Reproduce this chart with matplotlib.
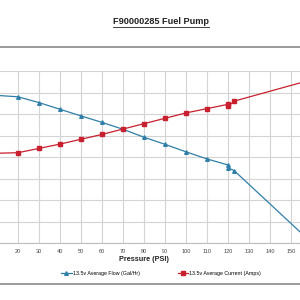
import numpy as np
import matplotlib.pyplot as plt
from matplotlib.lines import Line2D

plt.rcParams['font.family'] = ['Liberation Sans', 'DejaVu Sans']

# pressure (PSI)
pressure = [0, 20, 30, 40, 50, 60, 70, 80, 90, 100, 110, 120, 120, 123, 160]
# 13.5v average flow (Gal/Hr)
flow = [69.3, 68.0, 65.3, 62.2, 59.1, 56.1, 52.9, 49.2, 45.9, 42.4, 39.1, 36.3, 35.0, 33.6, 0]
# 13.5v average current (Amps)
current = [8.3, 8.4, 8.8, 9.2, 9.65, 10.1, 10.6, 11.1, 11.6, 12.1, 12.5, 12.9, 12.7, 13.2, 15.2]

x_ticks = np.arange(0, 161, 10)
# only these tick labels lie inside the picture
x_labels = [str(v) if 20 <= v <= 150 else '' for v in x_ticks]
flow_ticks = np.arange(0, 81, 10)
amp_ticks = np.arange(0, 17, 2)

blue = '#2f7fa9'
red = '#c8202f'
grid_c = '#d4d4d4'

fig = plt.figure(figsize=(3, 3), dpi=100)

# plot area is wider than the picture: left and right axes fall outside
ax = fig.add_axes([-24 / 300, 1 - 243 / 300, 336 / 300, 172 / 300])
ax.set_xlim(0, 160)
ax.set_ylim(0, 80)
ax.set_xticks(x_ticks, x_labels)
ax.set_yticks(flow_ticks, [])
ax.grid(True, color=grid_c, linewidth=0.8)
ax.set_axisbelow(True)
for s in ['top', 'left', 'right']:
    ax.spines[s].set_visible(False)
ax.spines['bottom'].set_color('#bdbdbd')
ax.spines['bottom'].set_linewidth(0.8)
ax.tick_params(length=0, labelsize=4, colors='#444444', pad=4)
ax.set_xlabel('Pressure (PSI)', fontsize=5.2, fontweight='bold', labelpad=1.5, color='#222222')

ax2 = ax.twinx()
ax2.set_ylim(0, 16)
ax2.set_yticks(amp_ticks, [])
for s in ax2.spines.values():
    s.set_visible(False)
ax2.tick_params(length=0)

ax.plot(pressure, flow, color=blue, lw=0.9, marker='^', ms=2.6, label='13.5v Average Flow (Gal/Hr)')
ax2.plot(pressure, current, color=red, lw=0.9, marker='s', ms=2.6, label='13.5v Average Current (Amps)')

# title with underline
fig.text(161 / 300, 1 - 21 / 300, 'F90000285 Fuel Pump', ha='center', va='center',
         fontsize=6.6, fontweight='bold', color='#222222')
fig.add_artist(Line2D([113 / 300, 209 / 300], [1 - 27 / 300, 1 - 27 / 300], color='#222222', lw=0.6))

# chart frame lines
fig.add_artist(Line2D([0, 1], [1 - 47 / 300, 1 - 47 / 300], color='#8a8a8a', lw=1.2))
fig.add_artist(Line2D([0, 1], [1 - 284 / 300, 1 - 284 / 300], color='#8a8a8a', lw=1.2))

handles = [Line2D([], [], color=blue, lw=0.9, marker='^', ms=2.6),
           Line2D([], [], color=red, lw=0.9, marker='s', ms=2.6)]
fig.legend(handles, ['13.5v Average Flow (Gal/Hr)', '13.5v Average Current (Amps)'],
           loc='center', bbox_to_anchor=(161 / 300, 1 - 273 / 300), ncol=2, frameon=False,
           fontsize=3.8, handlelength=2.0, handletextpad=0.2, columnspacing=7.2)

fig.savefig('out.png', dpi=100)
